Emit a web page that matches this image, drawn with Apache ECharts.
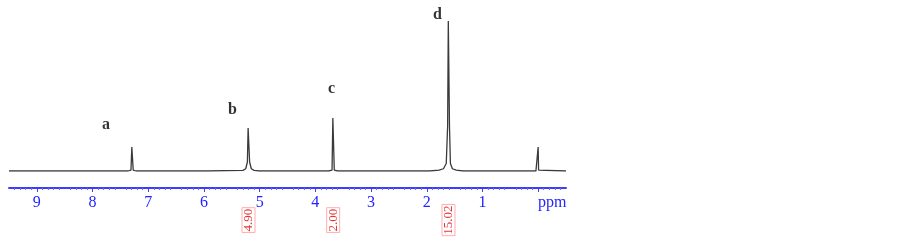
<!DOCTYPE html>
<html><head><meta charset="utf-8">
<script src="https://cdn.jsdelivr.net/npm/echarts@6/dist/echarts.min.js"></script>
<style>html,body{margin:0;padding:0;background:#fff}#c{width:903px;height:242px}</style>
</head><body><div id="c"></div>
<script>
// Spectrum trace (chemical shift in ppm, relative intensity)
const specPpm = [9.5, 7.36, 7.31, 7.295, 7.285, 7.27, 7.22,
  5.95, 5.30, 5.25, 5.22, 5.207, 5.193, 5.18, 5.15, 5.10, 5.0,
  3.76, 3.70, 3.686, 3.674, 3.66, 3.60,
  1.95, 1.78, 1.70, 1.65, 1.625, 1.613, 1.603, 1.592, 1.575, 1.54, 1.47, 1.35,
  0.04, 0.008, 0.0, -0.008, -0.04, -0.5];
const specInt = [0, 0, 0.6, 16, 16, 0.6, 0,
  0, 0.4, 1.5, 6, 28.7, 28.7, 6, 1.5, 0.4, 0,
  0, 0.6, 35.3, 35.3, 0.6, 0,
  0, 0.6, 1.5, 5, 30, 100, 100, 30, 5, 1.5, 0.6, 0,
  0, 0.6, 16, 0.6, 0, 0];
// Peak letters
const peakNames = ['a', 'b', 'c', 'd'];
const peakLabelPpm = [7.76, 5.49, 3.71, 1.81];
const peakLabelInt = [30.7, 40.7, 54.7, 104];
// Integrals
const integralPpm = [5.20, 3.68, 1.61];
const integralValues = ['4.90', '2.00', '15.02'];
// Axis tick labels (0 position carries the unit)
const tickValues = [9, 8, 7, 6, 5, 4, 3, 2, 1, 0];
const unitLabel = 'ppm';
const majorTicks = [0, 1, 2, 3, 4, 5, 6, 7, 8, 9];

const chart = echarts.init(document.getElementById('c'), null, {renderer: 'canvas'});
const serif = 'Liberation Serif';
chart.setOption({
  animation: false,
  grid: {left: 9, right: 337, top: 6, bottom: 71},
  xAxis: {
    type: 'value', inverse: true, min: -0.5, max: 9.5, interval: 0.5,
    offset: 17,
    axisLine: {show: true, onZero: false, lineStyle: {color: '#3c3cff', width: 2}},
    axisTick: {show: true, customValues: majorTicks, length: 4, lineStyle: {color: '#3c3cff'}},
    minorTick: {show: true, splitNumber: 5, length: 2, lineStyle: {color: '#6a6aff'}},
    axisLabel: {customValues: tickValues, color: '#2323ff', fontFamily: serif, fontSize: 16, margin: 7,
      formatter: v => v === 0 ? '{p|' + unitLabel + '}' : String(v),
      rich: {p: {color: '#2323ff', fontFamily: serif, fontSize: 16, padding: [0, 0, 0, 28]}}},
    splitLine: {show: false}
  },
  yAxis: {type: 'value', min: 0, max: 110, show: false},
  series: [
    {
      type: 'line', data: specPpm.map((p, i) => [p, specInt[i]]),
      showSymbol: false, symbol: 'none', silent: true,
      lineStyle: {color: '#3a3a3a', width: 1.3}
    },
    {
      type: 'scatter', symbolSize: 0, clip: false, silent: true,
      data: peakNames.map((n, i) => ({value: [peakLabelPpm[i], peakLabelInt[i]], name: n})),
      label: {show: true, position: 'inside', formatter: '{b}', color: '#000',
        fontFamily: serif, fontSize: 16, fontWeight: 'bold'}
    },
    {
      type: 'scatter', symbolSize: 0, clip: false, silent: true,
      data: integralPpm.map((p, i) => ({value: [p, -32.7], name: integralValues[i]})),
      label: {show: true, position: 'inside', formatter: '{b}', rotate: 90, color: '#e00000',
        fontFamily: serif, fontSize: 13, borderColor: '#ff9a9a', borderWidth: 1, padding: [0, 1, 0, 1]}
    }
  ]
});
</script></body></html>
